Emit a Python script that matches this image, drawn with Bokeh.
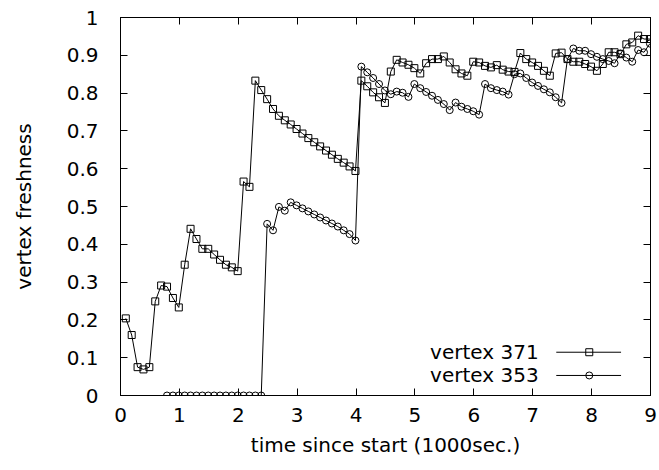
from bokeh.plotting import figure
from bokeh.models import Range1d, LinearAxis, FixedTicker
from bokeh.core.properties import value
from bokeh.embed import file_html
from bokeh.resources import INLINE

# ---- data -------------------------------------------------------------
time_371 = [0.09, 0.19, 0.29, 0.39, 0.49, 0.59, 0.69, 0.79, 0.89, 0.99,
            1.09, 1.19, 1.29, 1.39, 1.49, 1.59, 1.69, 1.79, 1.89, 1.99,
            2.09, 2.19, 2.29, 2.39, 2.49, 2.59, 2.69, 2.79, 2.89, 2.99,
            3.09, 3.19, 3.29, 3.39, 3.49, 3.59, 3.69, 3.79, 3.89, 3.99,
            4.09, 4.19, 4.29, 4.39, 4.49, 4.59, 4.69, 4.79, 4.89, 4.99,
            5.09, 5.19, 5.29, 5.39, 5.49, 5.59, 5.69, 5.79, 5.89, 5.99,
            6.09, 6.19, 6.29, 6.39, 6.49, 6.59, 6.69, 6.79, 6.89, 6.99,
            7.09, 7.19, 7.29, 7.39, 7.49, 7.59, 7.69, 7.79, 7.89, 7.99,
            8.09, 8.19, 8.29, 8.39, 8.49, 8.59, 8.69, 8.79, 8.89, 8.99]
fresh_371 = [0.204, 0.160, 0.075, 0.069, 0.075, 0.249, 0.291, 0.288, 0.258, 0.233,
             0.346, 0.441, 0.414, 0.388, 0.388, 0.373, 0.359, 0.346, 0.339, 0.329,
             0.566, 0.552, 0.833, 0.808, 0.784, 0.758, 0.740, 0.728, 0.717, 0.705,
             0.693, 0.681, 0.670, 0.659, 0.648, 0.637, 0.626, 0.616, 0.606, 0.594,
             0.833, 0.818, 0.802, 0.789, 0.774, 0.857, 0.888, 0.881, 0.875, 0.866,
             0.852, 0.879, 0.890, 0.890, 0.897, 0.881, 0.863, 0.852, 0.846, 0.883,
             0.881, 0.872, 0.868, 0.874, 0.862, 0.857, 0.856, 0.906, 0.890, 0.881,
             0.872, 0.859, 0.846, 0.905, 0.907, 0.890, 0.883, 0.883, 0.877, 0.870,
             0.859, 0.877, 0.908, 0.908, 0.903, 0.929, 0.934, 0.952, 0.943, 0.943]

time_353 = [0.79, 0.89, 0.99,
            1.09, 1.19, 1.29, 1.39, 1.49, 1.59, 1.69, 1.79, 1.89, 1.99,
            2.09, 2.19, 2.29, 2.39, 2.49, 2.59, 2.69, 2.79, 2.89, 2.99,
            3.09, 3.19, 3.29, 3.39, 3.49, 3.59, 3.69, 3.79, 3.89, 3.99,
            4.09, 4.19, 4.29, 4.39, 4.49, 4.59, 4.69, 4.79, 4.89, 4.99,
            5.09, 5.19, 5.29, 5.39, 5.49, 5.59, 5.69, 5.79, 5.89, 5.99,
            6.09, 6.19, 6.29, 6.39, 6.49, 6.59, 6.69, 6.79, 6.89, 6.99,
            7.09, 7.19, 7.29, 7.39, 7.49, 7.59, 7.69, 7.79, 7.89, 7.99,
            8.09, 8.19, 8.29, 8.39, 8.49, 8.59, 8.69, 8.79, 8.89, 8.99]
fresh_353 = [0.0, 0.0, 0.0,
             0.0, 0.0, 0.0, 0.0, 0.0, 0.0, 0.0, 0.0, 0.0, 0.0,
             0.0, 0.0, 0.0, 0.0, 0.454, 0.437, 0.499, 0.489, 0.511, 0.503,
             0.495, 0.487, 0.479, 0.471, 0.463, 0.455, 0.447, 0.437, 0.427, 0.410,
             0.870, 0.855, 0.840, 0.824, 0.807, 0.797, 0.804, 0.801, 0.790, 0.824,
             0.813, 0.803, 0.793, 0.782, 0.771, 0.755, 0.775, 0.764, 0.758, 0.752,
             0.743, 0.824, 0.813, 0.808, 0.804, 0.796, 0.850, 0.852, 0.840, 0.828,
             0.819, 0.810, 0.802, 0.789, 0.774, 0.890, 0.918, 0.912, 0.912, 0.903,
             0.896, 0.890, 0.885, 0.879, 0.905, 0.894, 0.883, 0.914, 0.908, 0.931]

series_names = ["vertex 371", "vertex 353"]
x_ticks = [0, 1, 2, 3, 4, 5, 6, 7, 8, 9]
y_ticks = [0, 0.1, 0.2, 0.3, 0.4, 0.5, 0.6, 0.7, 0.8, 0.9, 1]
y_tick_labels = ["0", "0.1", "0.2", "0.3", "0.4", "0.5", "0.6", "0.7", "0.8", "0.9", "1"]

# ---- style ------------------------------------------------------------
FONT = "DejaVu Sans"
FS = "20px"
MARK = 7

p = figure(width=659, height=470, output_backend="svg", toolbar_location=None,
           x_range=Range1d(0, 9), y_range=Range1d(0, 1),
           min_border_left=120, min_border_right=9,
           min_border_top=17, min_border_bottom=75)
p.background_fill_color = "white"
p.border_fill_color = "white"
p.outline_line_color = "black"
p.outline_line_width = 1
p.xgrid.visible = False
p.ygrid.visible = False

def style_axis(ax, ticks, show_labels):
    ax.ticker = FixedTicker(ticks=ticks)
    ax.axis_line_color = "black"
    ax.major_tick_line_color = "black"
    ax.major_tick_in = 7
    ax.major_tick_out = 0
    ax.minor_tick_line_color = None
    ax.major_label_text_font = FONT
    ax.major_label_text_font_size = FS
    if show_labels:
        ax.major_label_text_color = "black"
    else:
        # tick marks only: the labels are not drawn at all
        ax.major_label_text_color = None
        ax.major_label_standoff = 0

xa = p.xaxis[0]
ya = p.yaxis[0]
style_axis(xa, x_ticks, True)
style_axis(ya, y_ticks, True)
xa.major_label_standoff = 12
ya.major_label_standoff = 22
ya.major_label_overrides = {t: s for t, s in zip(y_ticks, y_tick_labels)}

xa.axis_label = "time since start (1000sec.)"
ya.axis_label = "vertex freshness"
for ax in (xa, ya):
    ax.axis_label_text_font = FONT
    ax.axis_label_text_font_size = FS
    ax.axis_label_text_font_style = "normal"
    ax.axis_label_text_color = "black"
xa.axis_label_standoff = 8
ya.axis_label_standoff = 28

# mirrored ticks on top and right
top = LinearAxis()
right = LinearAxis()
style_axis(top, x_ticks, False)
style_axis(right, y_ticks, False)
p.add_layout(top, "above")
p.add_layout(right, "right")

# ---- series -----------------------------------------------------------
p.line(time_371, fresh_371, line_color="black", line_width=1)
p.scatter(time_371, fresh_371, marker="square", size=MARK,
          line_color="black", line_width=1, fill_alpha=0)
p.line(time_353, fresh_353, line_color="black", line_width=1)
p.scatter(time_353, fresh_353, marker="circle", size=MARK,
          line_color="black", line_width=1, fill_alpha=0)

# ---- key (bottom right, text left of the sample) -------------------------
key_text_x = 7.10
key_line_x = [7.40, 8.50]
key_mark_x = 7.96
key_rows_y = [0.1145, 0.053]
key_markers = ["square", "circle"]
for name, ky, mk in zip(series_names, key_rows_y, key_markers):
    p.text(x=[key_text_x], y=[ky], text=[name], text_align="right",
           text_baseline="middle", text_font=value(FONT),
           text_font_size=FS, text_color="black")
    p.line(key_line_x, [ky, ky], line_color="black", line_width=1)
    p.scatter([key_mark_x], [ky], marker=mk, size=MARK,
              line_color="black", line_width=1, fill_alpha=0)

open("out.html", "w").write(file_html(p, INLINE))
